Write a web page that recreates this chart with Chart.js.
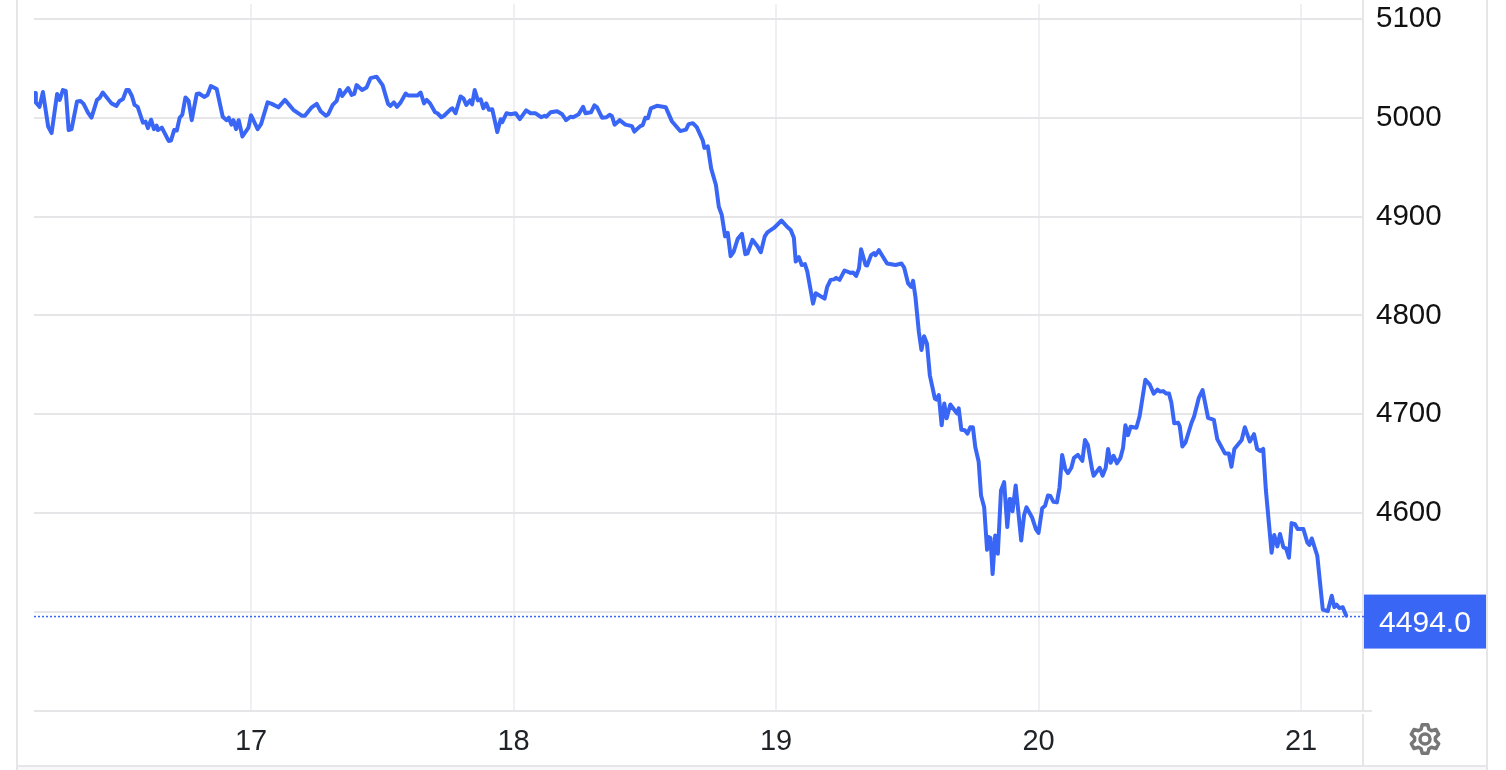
<!DOCTYPE html>
<html>
<head>
<meta charset="utf-8">
<title>Price chart</title>
<script src="https://cdn.jsdelivr.net/npm/chart.js@4"></script>
<style>
  html, body { margin: 0; padding: 0; background: #fff; overflow: hidden; }
  #wrap { position: relative; width: 1506px; height: 770px; }
  #gear { position: absolute; left: 1408px; top: 722px; }
</style>
</head>
<body>
<div id="wrap">
  <canvas id="priceChart" width="1506" height="770"></canvas>
  <svg id="gear" width="34" height="34" viewBox="0 0 34 34" fill="none" stroke="#777" stroke-width="3.5" stroke-linejoin="round">
    <polygon id="gearOutline"/>
    <circle cx="17" cy="17" r="5"/>
  </svg>
</div>

<script>
// DATA
const dayTicks = [17, 18, 19, 20, 21];
const priceTicks = [4400, 4500, 4600, 4700, 4800, 4900, 5000, 5100];
const hiddenPriceLabels = [4400, 4500];
const lastLabel = "4494.0";
const lastLevel = 4495.5;

// time in days
const priceDays = [
  16.177, 16.180, 16.194, 16.207, 16.227, 16.240, 16.261, 16.271, 16.283, 16.294,
  16.305, 16.316, 16.337, 16.350, 16.362, 16.378, 16.392, 16.413, 16.423, 16.435,
  16.468, 16.487, 16.499, 16.512, 16.525, 16.534, 16.546, 16.556, 16.568, 16.588,
  16.598, 16.607, 16.619, 16.630, 16.640, 16.645, 16.660, 16.686, 16.695, 16.707,
  16.717, 16.728, 16.738, 16.750, 16.762, 16.774, 16.793, 16.802, 16.821, 16.834,
  16.847, 16.869, 16.892, 16.907, 16.915, 16.925, 16.933, 16.943, 16.953, 16.967,
  16.990, 17.000, 17.025, 17.038, 17.063, 17.079, 17.104, 17.129, 17.161, 17.193,
  17.205, 17.231, 17.250, 17.265, 17.285, 17.294, 17.311, 17.326, 17.338, 17.347,
  17.370, 17.383, 17.393, 17.402, 17.423, 17.440, 17.455, 17.478, 17.501, 17.522,
  17.531, 17.544, 17.556,
  17.570, 17.589, 17.598, 17.634, 17.646, 17.659, 17.669, 17.682, 17.701, 17.710,
  17.725, 17.735, 17.760, 17.767, 17.779, 17.798, 17.809, 17.820, 17.834, 17.842,
  17.852, 17.864, 17.875, 17.885, 17.896, 17.906, 17.919, 17.938, 17.951, 17.957,
  17.973, 17.989, 18.008, 18.024, 18.048, 18.065, 18.084, 18.105, 18.118, 18.125,
  18.141, 18.166, 18.185, 18.200, 18.217, 18.227, 18.248, 18.265, 18.274, 18.295,
  18.308, 18.318, 18.337, 18.354, 18.366, 18.375, 18.385, 18.404, 18.426, 18.451,
  18.460, 18.483, 18.492, 18.502, 18.512, 18.523, 18.546, 18.580, 18.603, 18.635,
  18.657, 18.667, 18.683, 18.698, 18.721, 18.727, 18.740, 18.753, 18.771, 18.782,
  18.793, 18.806, 18.816, 18.827, 18.838, 18.854, 18.870, 18.883, 18.891, 18.910,
  18.929, 18.942, 18.957, 18.967, 18.992, 19.021, 19.043, 19.056, 19.068,
  19.075, 19.087, 19.098, 19.110, 19.119, 19.141, 19.151, 19.185, 19.195, 19.208,
  19.221, 19.229, 19.242, 19.261, 19.284, 19.293, 19.305, 19.316, 19.324, 19.341,
  19.347, 19.362, 19.373, 19.379, 19.392, 19.423, 19.455, 19.478, 19.488, 19.503,
  19.515, 19.522, 19.531, 19.544, 19.554, 19.564, 19.575, 19.586, 19.605, 19.611,
  19.620, 19.631, 19.641, 19.650, 19.664, 19.689, 19.696, 19.706, 19.719, 19.729,
  19.740, 19.750, 19.759, 19.772, 19.781, 19.793, 19.804, 19.810, 19.817, 19.825,
  19.835, 19.839, 19.845, 19.857, 19.869, 19.881, 19.890, 19.895, 19.901, 19.913,
  19.934, 19.945, 19.954, 19.975, 19.990, 20.000,
  20.014, 20.025, 20.036, 20.045, 20.057, 20.070, 20.080, 20.090, 20.102, 20.112,
  20.125, 20.135, 20.150, 20.167, 20.177, 20.188, 20.204, 20.210, 20.233, 20.244,
  20.256, 20.265, 20.275, 20.286, 20.299, 20.312, 20.322, 20.331, 20.341, 20.351,
  20.373, 20.385, 20.407, 20.424, 20.439, 20.453, 20.464, 20.475, 20.487, 20.497,
  20.506, 20.517, 20.532, 20.538, 20.548, 20.560, 20.583, 20.593, 20.611, 20.625,
  20.646, 20.668, 20.681, 20.710, 20.725, 20.735, 20.746, 20.774, 20.786, 20.805,
  20.821, 20.833, 20.844, 20.856, 20.866, 20.888, 20.898, 20.910, 20.920, 20.933,
  20.943, 20.954, 20.964, 20.977, 20.987, 21.009, 21.024, 21.032, 21.041, 21.062,
  21.083, 21.102, 21.117, 21.127, 21.136, 21.146, 21.159, 21.172
];

const priceValues = [
  5025, 5015.5, 5011, 5026, 4991, 4984.5, 5024, 5018, 5028, 5027,
  4987.5, 4988.5, 5016.5, 5017, 5014, 5005.5, 5000, 5018, 5020, 5025.5,
  5014.5, 5012, 5017, 5019, 5028, 5028, 5022, 5013, 5011, 4995,
  4996, 4989.5, 4998, 4988.5, 4992, 4987.5, 4990, 4976.5, 4977, 4987.5,
  4987, 5000, 5003, 5020.5, 5017, 4997.5, 5024, 5024.5, 5021, 5023,
  5032, 5029, 5001, 4997.5, 5000, 4993, 4997.5, 4988.5, 4997.5, 4981,
  4990, 5002.5, 4988.5, 4993.5, 5015.5, 5014, 5010.5, 5018, 5008, 5002,
  5002, 5010.5, 5014, 5006.5, 5002, 5003.5, 5013, 5017, 5028, 5022,
  5030, 5023, 5024, 5033, 5028, 5030.5, 5040, 5041.5, 5033, 5014,
  5012, 5015.5, 5011,
  5015.5, 5024.5, 5022.5, 5022.5, 5025.5, 5014.5, 5018, 5014.5, 5005.5, 5004.5,
  5000.5, 5002, 5008.5, 5009.5, 5004.5, 5021.5, 5019.5, 5013, 5017.5, 5013.5,
  5028, 5017.5, 5018.5, 5009.5, 5014.5, 5008, 5008.5, 4985.5, 4998.5, 4995.5,
  5004.5, 5003.5, 5004.5, 4998.5, 5007.5, 5004.5, 5004.5, 5000.5, 5002, 5001,
  5005.5, 5006.5, 5003.5, 4997.5, 5001, 5000.5, 5003.5, 5011, 5004.5, 5005.5,
  5012.5, 5010.5, 5000, 5000.5, 5003, 5001.5, 4993, 4997.5, 4993, 4991.5,
  4986, 4991.5, 4992.5, 5000, 4999.5, 5009.5, 5012, 5010.5, 4996.5, 4986.5,
  4988, 4993.5, 4994.5, 4990.5, 4977, 4969.5, 4971, 4948.5, 4932, 4910,
  4902, 4880, 4883.5, 4860, 4864, 4877.5, 4882.5, 4862, 4862.5, 4876.5,
  4870, 4864, 4880, 4884, 4888.5, 4896, 4889.5, 4886.5, 4878.5,
  4854.5, 4859, 4851, 4852, 4844.5, 4812, 4822.5, 4817, 4829, 4836,
  4836.5, 4838, 4836, 4845.5, 4843, 4843.5, 4840, 4847.5, 4867, 4851,
  4850.5, 4861, 4863, 4861, 4866, 4852.5, 4851, 4852.5, 4848.5, 4832.5,
  4829, 4835, 4819, 4783.5, 4765, 4779, 4771.5, 4739.5, 4716, 4715,
  4719.5, 4689, 4711, 4696, 4710, 4701, 4706, 4684.5, 4684, 4680.5,
  4687, 4687, 4667, 4652, 4618, 4606, 4563, 4576, 4575, 4538.5,
  4577.5, 4576, 4559, 4623, 4631.5, 4586, 4614.5, 4614, 4602, 4628,
  4572.5, 4598, 4606, 4596, 4584, 4580,
  4605, 4607.5, 4618, 4617.5, 4611.5, 4611, 4626, 4659, 4644.5, 4640.5,
  4646, 4656, 4659, 4653, 4674, 4669, 4644.5, 4638, 4646, 4638,
  4646, 4665, 4651, 4658, 4650.5, 4656, 4666, 4689, 4679, 4687.5,
  4686.5, 4698, 4735, 4730, 4721, 4725, 4723, 4723.5, 4721, 4721,
  4712, 4691, 4691.5, 4688, 4667.5, 4671.5, 4691.5, 4698, 4717, 4724.5,
  4696.5, 4694.5, 4675, 4660.5, 4660.5, 4647, 4665, 4674, 4687, 4672.5,
  4680, 4665, 4663, 4665, 4624, 4560, 4578, 4566.5, 4579, 4565.5,
  4564.5, 4555, 4590, 4589, 4584, 4584, 4570.5, 4568, 4574.5, 4557,
  4502.5, 4501, 4516.5, 4505, 4507.5, 4504, 4505, 4496.5
];

// STYLE
const BLUE = "#3a66f6";
const GRID = "#e6e6e8";
const DAY_GRID = "#eef0f4";
const FONT = "'Liberation Sans', Arial, sans-serif";

// settings icon outline, six teeth
function buildGear() {
  const pts = [];
  for (let i = 0; i < 6; i++) {
    const a = i * 60;
    [[a - 22, 10.5], [a - 11, 14.5], [a + 11, 14.5], [a + 22, 10.5]].forEach(([deg, r]) => {
      const rad = (deg - 90) * Math.PI / 180;
      pts.push(`${(17 + r * Math.cos(rad)).toFixed(2)},${(17 + r * Math.sin(rad)).toFixed(2)}`);
    });
  }
  document.getElementById("gearOutline").setAttribute("points", pts.join(" "));
}
buildGear();

// frame, axis separator and the last price box
const chrome = {
  id: "chrome",
  beforeDraw(chart) {
    const { ctx, chartArea } = chart;
    const axisX = chartArea.right - 1;
    const bottom = chartArea.bottom;
    ctx.save();

    ctx.fillStyle = "#f7f8fa";
    ctx.fillRect(18, 767, 1468, 3);

    ctx.fillStyle = GRID;
    ctx.fillRect(16, 0, 2, 770);
    ctx.fillRect(1486, 0, 2, 770);
    ctx.fillRect(18, 765, 1468, 2);
    // separator stops around the x axis line
    ctx.fillRect(axisX - 1, 0, 2, bottom - 1);
    ctx.fillRect(axisX - 1, bottom + 3, 2, 765 - bottom - 3);
    ctx.fillRect(axisX, bottom - 1, 9, 2);
    ctx.restore();
  },
  afterDraw(chart) {
    const { ctx, chartArea, scales } = chart;
    const lineY = scales.y.getPixelForValue(lastLevel);
    ctx.save();
    ctx.fillStyle = BLUE;
    ctx.fillRect(chartArea.right, lineY - 22, 122, 54);
    ctx.fillStyle = "#fff";
    ctx.font = "30px " + FONT;
    ctx.textAlign = "center";
    ctx.textBaseline = "middle";
    ctx.fillText(lastLabel, chartArea.right + 61, lineY + 7);
    ctx.restore();
  }
};

// CHART
const pricePoints = priceDays.map((d, i) => ({ x: d, y: priceValues[i] }));

new Chart(document.getElementById("priceChart"), {
  type: "line",
  data: {
    datasets: [
      {
        data: pricePoints,
        borderColor: BLUE,
        borderWidth: 4,
        borderJoinStyle: "round",
        borderCapStyle: "round",
        pointRadius: 0,
        tension: 0
      },
      {
        data: [{ x: 16.173, y: lastLevel }, { x: 21.24, y: lastLevel }],
        borderColor: BLUE,
        borderWidth: 1.5,
        borderDash: [2, 2],
        pointRadius: 0
      }
    ]
  },
  options: {
    responsive: false,
    animation: false,
    events: [],
    layout: { padding: { left: 34, top: 4 } },
    plugins: { legend: { display: false }, tooltip: { enabled: false } },
    scales: {
      x: {
        type: "linear",
        min: 16.173,
        max: 21.24,
        afterFit(scale) {
          scale.height = 59;
          scale.paddingLeft = 0;
          scale.paddingRight = 0;
        },
        afterBuildTicks(scale) { scale.ticks = dayTicks.map(v => ({ value: v })); },
        border: { display: false },
        grid: { color: DAY_GRID, lineWidth: 2, drawTicks: false },
        ticks: {
          color: "#1f2328",
          padding: 14,
          maxRotation: 0,
          autoSkip: false,
          font: { family: FONT, size: 29 },
          callback: v => String(v)
        }
      },
      y: {
        position: "right",
        min: 4400,
        max: 5115,
        afterFit(scale) {
          scale.width = 142;
          scale.paddingTop = 0;
          scale.paddingBottom = 0;
        },
        afterBuildTicks(scale) { scale.ticks = priceTicks.map(v => ({ value: v })); },
        border: { display: false },
        grid: { color: GRID, lineWidth: 2, drawTicks: false },
        ticks: {
          color: "#111",
          padding: 12,
          autoSkip: false,
          font: { family: FONT, size: 29.5 },
          callback: v => hiddenPriceLabels.includes(v) ? "" : String(v)
        }
      }
    }
  },
  plugins: [chrome]
});
</script>
</body>
</html>
